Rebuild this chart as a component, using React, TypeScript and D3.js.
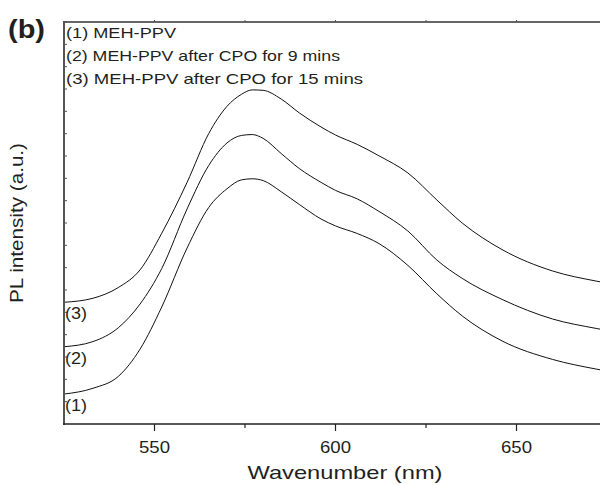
import React from "react";
import * as d3 from "d3";

const wavelengths = [525, 533, 540, 546, 552, 559, 565, 570, 574, 577, 580, 585, 590, 596, 600, 606, 612, 620, 628, 635, 646, 660, 672, 675];
const series1 = [1.34, 1.6, 2.13, 3.35, 5.24, 7.88, 9.7, 10.53, 10.93, 10.98, 10.9, 10.4, 9.83, 9.18, 8.87, 8.53, 8.08, 7.1, 5.83, 4.84, 3.72, 2.89, 2.46, 2.37];
const series2 = [3.46, 3.69, 4.31, 5.37, 6.96, 9.63, 11.58, 12.58, 12.92, 12.96, 12.79, 12.11, 11.44, 10.82, 10.46, 10.08, 9.52, 8.64, 7.34, 6.52, 5.58, 4.7, 4.28, 4.19];
const series3 = [5.45, 5.63, 6.11, 6.9, 8.54, 10.82, 13.01, 14.22, 14.76, 14.96, 14.94, 14.55, 13.93, 13.3, 12.94, 12.52, 12.01, 11.24, 10.03, 9.0, 7.81, 6.85, 6.4, 6.31];
const seriesList = [series1, series2, series3];
const curveLabels = ["(1)", "(2)", "(3)"];
const legendLines = ["(1) MEH-PPV", "(2) MEH-PPV after CPO for 9 mins", "(3) MEH-PPV after CPO for 15 mins"];
const legendWidths = [110, 274, 297];
const xMajorTicks = [550, 600, 650];
const xMinorTicks = [575, 625];
const yTickCount = 18;

const W = 600, H = 485;
const left = 64, right = 607, top = 22, bottom = 424;
const font = "'Liberation Sans', Arial, Helvetica, sans-serif";
const ink = "#231f20";

export default function App() {
  const x = d3.scaleLinear().domain([525, 675]).range([left, right]);
  const y = d3.scaleLinear().domain([0, yTickCount]).range([bottom, top]);
  const line = d3.line<number>()
    .x((_, i) => x(wavelengths[i]))
    .y((d) => y(d))
    .curve(d3.curveMonotoneX);
  const yTicks = d3.range(1, yTickCount + 1);
  return (
    <svg width={W} height={H} style={{ position: "absolute", left: 0, top: 0, background: "#fff" }} fontFamily={font}>
      {/* panel label */}
      <text x={8} y={38} fontSize={26} fontWeight="bold" fill={ink} textLength={37} lengthAdjust="spacingAndGlyphs">(b)</text>
      {/* curves */}
      {seriesList.map((s, k) => (
        <path key={k} d={line(s) || ""} fill="none" stroke="#111" strokeWidth={1} />
      ))}
      {/* frame: top */}
      <line x1={left} x2={W} y1={top} y2={top} stroke="#333" strokeWidth={1.5} />
      {[...xMajorTicks, ...xMinorTicks].map((t) => (
        <line key={"tt" + t} x1={x(t)} x2={x(t)} y1={top} y2={top - 2} stroke="#555" strokeWidth={1} />
      ))}
      {/* left axis */}
      <line x1={left} x2={left} y1={top - 1} y2={bottom + 1} stroke="#555" strokeWidth={2} />
      {yTicks.map((t) => (
        <line key={"yt" + t} x1={left} x2={left + 3} y1={y(t)} y2={y(t)} stroke="#555" strokeWidth={1} />
      ))}
      {/* bottom axis */}
      <line x1={left - 1} x2={W} y1={bottom} y2={bottom} stroke="#222" strokeWidth={1.5} />
      {xMajorTicks.map((t) => (
        <g key={"xm" + t}>
          <line x1={x(t)} x2={x(t)} y1={bottom} y2={bottom + 7} stroke="#222" strokeWidth={1.2} />
          <text x={x(t)} y={453} textAnchor="middle" fontSize={17} fill={ink} textLength={31} lengthAdjust="spacingAndGlyphs">{t}</text>
        </g>
      ))}
      {xMinorTicks.map((t) => (
        <line key={"xn" + t} x1={x(t)} x2={x(t)} y1={bottom} y2={bottom + 4} stroke="#222" strokeWidth={1.2} />
      ))}
      {/* axis titles */}
      <text x={345} y={479} textAnchor="middle" fontSize={18.5} fill={ink} textLength={195} lengthAdjust="spacingAndGlyphs">Wavenumber (nm)</text>
      <text transform={`translate(23,${223}) rotate(-90)`} textAnchor="middle" fontSize={18.5} fill={ink} textLength={160} lengthAdjust="spacingAndGlyphs">PL intensity (a.u.)</text>
      {/* legend */}
      {legendLines.map((l, i) => (
        <text key={l} x={66} y={38 + i * 23} fontSize={15} fill={ink} textLength={legendWidths[i]} lengthAdjust="spacingAndGlyphs">{l}</text>
      ))}
      {/* curve labels */}
      {seriesList.map((s, k) => (
        <text key={"cl" + k} x={65} y={y(s[0]) + 17} fontSize={16} fill={ink} textLength={22} lengthAdjust="spacingAndGlyphs">{curveLabels[k]}</text>
      ))}
    </svg>
  );
}
